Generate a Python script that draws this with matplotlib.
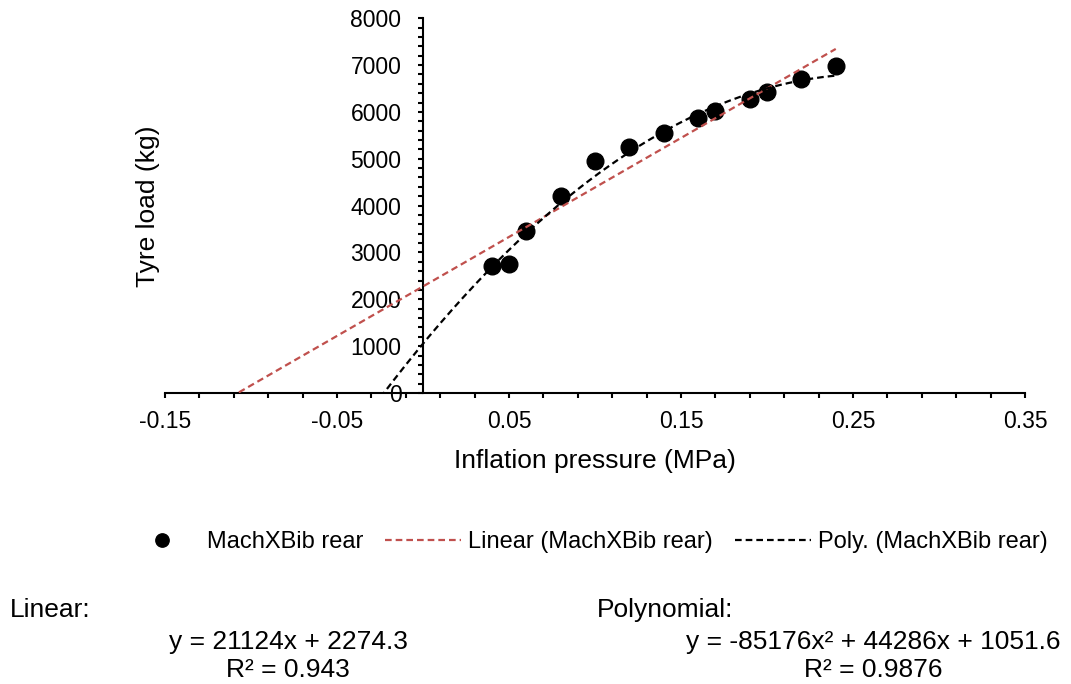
import numpy as np
import matplotlib
matplotlib.use("Agg")
import matplotlib.pyplot as plt
from matplotlib.ticker import FixedLocator, MultipleLocator, FormatStrFormatter

plt.rcParams['font.family'] = ['Liberation Sans', 'DejaVu Sans']

pressure = [0.04, 0.05, 0.06, 0.08, 0.10, 0.12, 0.14, 0.16, 0.17, 0.19, 0.20, 0.22, 0.24]
load = [2707, 2750, 3460, 4200, 4955, 5255, 5555, 5865, 6020, 6275, 6420, 6695, 6975]

# Trendline coefficients as printed under the chart
lin_coef = [21124, 2274.3]
poly_coef = [-85176, 44286, 1051.6]
lin_r2 = 0.943
poly_r2 = 0.9876

x_major = [-0.15, -0.05, 0.05, 0.15, 0.25, 0.35]
series_name = "MachXBib rear"

red = "#C0504D"

fig = plt.figure(figsize=(10.71, 6.84), dpi=100)
ax = fig.add_axes([0.154, 0.4254, 0.803, 0.548])

# trendlines, forecast backward to the axis limit and clipped at y=0
xt = np.linspace(-0.15, max(pressure), 400)
lin_line, = ax.plot(xt, np.polyval(lin_coef, xt), color=red, lw=1.6,
                    ls=(0, (3, 1.8)), zorder=3)
poly_line, = ax.plot(xt, np.polyval(poly_coef, xt), color="black", lw=1.6,
                     ls=(0, (3, 1.8)), zorder=3)
pts, = ax.plot(pressure, load, "o", color="black", ms=12, ls="none", zorder=2)

ax.set_xlim(-0.15, 0.35)
ax.set_ylim(0, 8000)

ax.spines['left'].set_position(('data', 0))
ax.spines['bottom'].set_position(('data', 0))
ax.spines['top'].set_visible(False)
ax.spines['right'].set_visible(False)
for s in ('left', 'bottom'):
    ax.spines[s].set_linewidth(1.5)

ax.xaxis.set_major_locator(FixedLocator(x_major))
ax.xaxis.set_minor_locator(FixedLocator(np.arange(-0.15, 0.351, 0.02)))
ax.xaxis.set_major_formatter(FormatStrFormatter('%.2f'))
ax.yaxis.set_major_locator(MultipleLocator(1000))
ax.yaxis.set_minor_locator(MultipleLocator(200))

ax.tick_params(axis='x', which='both', direction='out', length=3.5, width=1.5,
               labelsize=16.5, pad=9)
ax.tick_params(axis='y', which='both', direction='out', length=3.5, width=1.5,
               labelsize=16.5, pad=12)

ax.set_xlabel("Inflation pressure (MPa)", fontsize=19, va='center')
ax.xaxis.set_label_coords(0.5, -0.181)
ax.set_ylabel("Tyre load (kg)", fontsize=19, va='center')
ax.yaxis.set_label_coords(-0.02, 0.499)

fig.legend([pts, lin_line, poly_line],
           [series_name, f"Linear ({series_name})", f"Poly. ({series_name})"],
           loc='center', bbox_to_anchor=(0.547, 0.207), ncol=3, frameon=False,
           handlelength=3.2, handletextpad=0.3, columnspacing=0.95,
           fontsize=17, markerscale=0.8, numpoints=1)

# equation blocks
fig.text(10 / 1071, 1 - 610 / 684, "Linear:", ha='left', va='center', fontsize=19)
fig.text(288 / 1071, 1 - 642 / 684, f"y = {lin_coef[0]}x + {lin_coef[1]}",
         ha='center', va='center', fontsize=19)
fig.text(288 / 1071, 1 - 670 / 684, f"R² = {lin_r2}", ha='center', va='center', fontsize=19)

fig.text(597 / 1071, 1 - 610 / 684, "Polynomial:", ha='left', va='center', fontsize=19)
fig.text(873 / 1071, 1 - 642 / 684,
         f"y = {poly_coef[0]}x² + {poly_coef[1]}x + {poly_coef[2]}",
         ha='center', va='center', fontsize=19)
fig.text(873 / 1071, 1 - 670 / 684, f"R² = {poly_r2}", ha='center', va='center', fontsize=19)

fig.savefig("out.png", dpi=100)
